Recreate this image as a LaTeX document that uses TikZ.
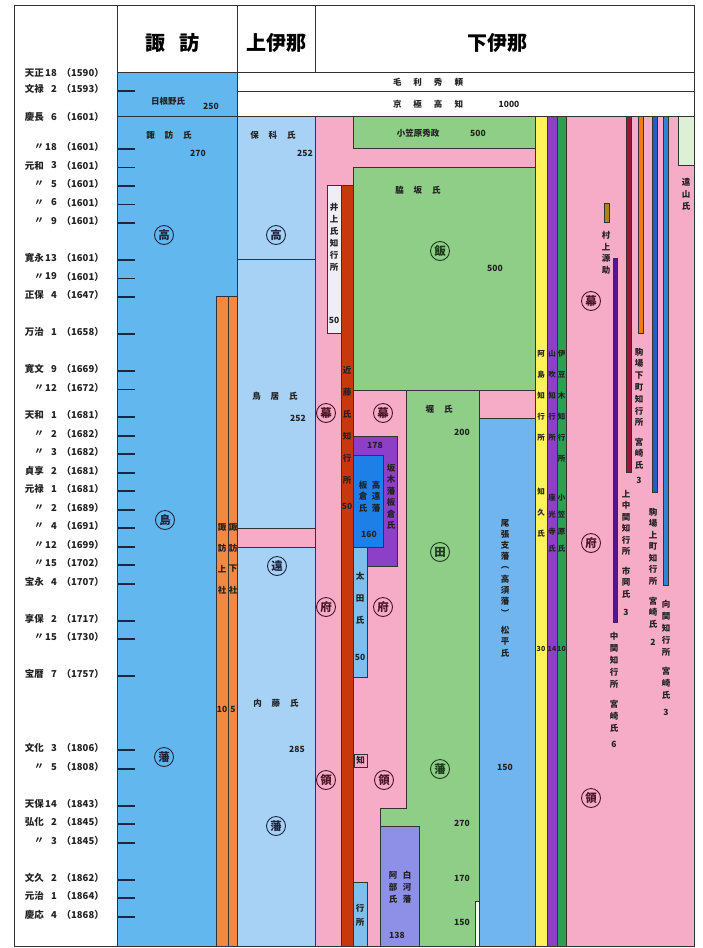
\documentclass[tikz,border=0pt]{standalone}
\usepackage{fontspec}
\setmainfont{Noto Sans CJK JP}
\definecolor{suwa}{HTML}{62B8EE}
\definecolor{kami}{HTML}{A8D2F5}
\definecolor{pinkc}{HTML}{F6ACC6}
\definecolor{grn}{HTML}{8FCE87}
\definecolor{orng}{HTML}{F58746}
\definecolor{kondo}{HTML}{C8380E}
\definecolor{inoue}{HTML}{EEEEF8}
\definecolor{owari}{HTML}{70B4F0}
\definecolor{takato}{HTML}{1E7FE6}
\definecolor{sakaki}{HTML}{8C40C8}
\definecolor{shira}{HTML}{8E90E8}
\definecolor{ota}{HTML}{7CC0F0}
\definecolor{yel}{HTML}{FFF25A}
\definecolor{purp}{HTML}{8A40C8}
\definecolor{gstrip}{HTML}{2AA050}
\definecolor{olive}{HTML}{A08A14}
\definecolor{dpurp}{HTML}{4E1A8C}
\definecolor{dred}{HTML}{A0143A}
\definecolor{orgtwo}{HTML}{F07A14}
\definecolor{bluone}{HTML}{1E60C8}
\definecolor{blutwo}{HTML}{2888D8}
\definecolor{toya}{HTML}{DDF0D6}
\definecolor{lineC}{HTML}{333333}
\definecolor{cB}{HTML}{1E2540}
\definecolor{cP}{HTML}{4A1525}
\definecolor{cG}{HTML}{1C3A1C}
\definecolor{txt}{HTML}{222222}
\newcommand\dt{〃\hspace{4pt}}
\newcommand{\vst}[6]{\foreach \c [count=\i from 0] in {#6}{\node[vt,#1] (#2\i) at (#3,{#4+\i*#5}) {\c};}}
\begin{document}
\begin{tikzpicture}[x=1pt,y=-1pt,
  box/.style={draw=lineC, line width=0.7pt},
  frame/.style={draw=lineC, line width=0.9pt},
  tickln/.style={draw=cB, line width=1.3pt},
  circ/.style={circle, draw, line width=0.9pt, inner sep=0pt, minimum size=19pt, font=\fontsize{11.5}{11.5}\selectfont\bfseries},
  t/.style={inner sep=0pt, text=txt, font=\fontsize{8.5}{9}\selectfont\bfseries},
  lab/.style={inner sep=0pt, text=txt, font=\fontsize{9.5}{10}\selectfont\bfseries},
  vt/.style={inner sep=0pt, text=txt, font=\fontsize{8.5}{8.5}\selectfont\bfseries},
  head/.style={inner sep=0pt, text=black, font=\fontsize{20}{22}\selectfont\bfseries}]
\useasboundingbox (0,0) rectangle (703,948);
\fill[white] (0,0) rectangle (703,948);

% ---- 諏訪 column
\filldraw[box, fill=suwa] (117.5,72) rectangle (237.5,116);
\filldraw[box, fill=suwa] (117.5,116) rectangle (237.5,946);
\filldraw[box, fill=orng] (216,296) rectangle (228,946);
\filldraw[box, fill=orng] (228,296) rectangle (237.5,946);
\foreach \y in {91,149,167.5,186,204.5,223,260,278.5,297,334,371,389.5,417,436,454,473,491,510,528,547,565,584,621,639,676,750,769,806,824,843,880,898,917}
  \draw[tickln] (117.5,\y) -- (135,\y);

% ---- 上伊那 / rows
\filldraw[box, fill=white] (237.5,72) rectangle (694,91);
\filldraw[box, fill=white] (237.5,91) rectangle (694,116);
\filldraw[box, fill=pinkc] (237.5,528) rectangle (315,547);
\filldraw[box, fill=kami] (237.5,116) rectangle (315,259);
\filldraw[box, fill=kami] (237.5,259) rectangle (315,528);
\filldraw[box, fill=kami] (237.5,547) rectangle (315,946);

% ---- 下伊那
\filldraw[box, fill=pinkc] (315,116) rectangle (694,946);
\filldraw[box, fill=grn] (353,116) rectangle (535,148);
\filldraw[box, fill=grn] (353,167) rectangle (535,390);
\filldraw[box, fill=inoue] (327,185) rectangle (341,333);
\filldraw[box, fill=kondo] (341,185) rectangle (353,946);
\filldraw[box, fill=grn] (406,390) -- (479,390) -- (479,946) -- (380,946) -- (380,808) -- (406,808) -- cycle;
\filldraw[box, fill=owari] (479,418) rectangle (535,946);
\filldraw[box, fill=sakaki] (353,436) rectangle (397,566);
\filldraw[box, fill=takato] (353,455) rectangle (383,547);
\filldraw[box, fill=ota] (353,547) rectangle (367,677);
\filldraw[box, fill=shira] (380,826) rectangle (419,946);
\filldraw[box, fill=white] (475,901) rectangle (479,946);
\filldraw[box, fill=pinkc] (354,754) rectangle (367,767);
\filldraw[box, fill=ota] (353,882) rectangle (367,946);
\filldraw[box, fill=yel] (535,116) rectangle (547,946);
\filldraw[box, fill=purp] (547,116) rectangle (557,946);
\filldraw[box, fill=gstrip] (557,116) rectangle (566,946);
\filldraw[box, fill=olive] (604,203) rectangle (609,222);
\filldraw[box, fill=dpurp] (613,258) rectangle (617,622);
\filldraw[box, fill=dred] (626,116) rectangle (631,472);
\filldraw[box, fill=orgtwo] (638,116) rectangle (643,333);
\filldraw[box, fill=bluone] (652,116) rectangle (657,492);
\filldraw[box, fill=blutwo] (663,116) rectangle (668,585);
\filldraw[box, fill=toya] (678,116) rectangle (694,165);

% ---- frame and header
\draw[frame] (14,5) rectangle (694,946);
\draw[frame] (117.5,5) -- (117.5,946);
\draw[frame] (237.5,5) -- (237.5,72);
\draw[frame] (315,5) -- (315,72);
\draw[frame] (117.5,72) -- (694,72);
\node[head] (hSuwa) at (172,43) {諏\hspace{14pt}訪};
\node[head] (hKami) at (276,43) {上伊那};
\node[head] (hShimo) at (497,43) {下伊那};

% ---- left labels
\foreach \e/\n/\yr/\y [count=\k] in {天正/18/1590/73, 文禄/2/1593/89, 慶長/6/1601/117, \dt/18/1601/147, 元和/3/1601/165.5, \dt/5/1601/184, \dt/6/1601/202.5, \dt/9/1601/221, 寛永/13/1601/258, \dt/19/1601/276.5, 正保/4/1647/295, 万治/1/1658/332, 寛文/9/1669/369, \dt/12/1672/387.5, 天和/1/1681/415, \dt/2/1682/434, \dt/3/1682/452, 貞享/2/1681/471, 元禄/1/1681/489, \dt/2/1689/508, \dt/4/1691/526, \dt/12/1699/545, \dt/15/1702/563, 宝永/4/1707/582, 享保/2/1717/619, \dt/15/1730/637, 宝暦/7/1757/674, 文化/3/1806/748, \dt/5/1808/767, 天保/14/1843/804, 弘化/2/1845/822, \dt/3/1845/841, 文久/2/1862/878, 元治/1/1864/896, 慶応/4/1868/915}
{
  \node[lab, anchor=east] (era\k) at (44,\y) {\e};
  \node[lab, anchor=east] (num\k) at (57,\y) {\n};
  \node[lab, anchor=east] (yr\k) at (104,\y) {（\yr）};
}

% ---- row texts
\node[t] (mouri) at (428,82) {毛\hspace{12pt}利\hspace{12pt}秀\hspace{12pt}頼};
\node[t] (kyogoku) at (428,104) {京\hspace{12pt}極\hspace{12pt}高\hspace{12pt}知};
\node[t] (kyoN) at (509,104) {1000};
\node[t] (hine) at (168,101) {日根野氏};
\node[t] (hineN) at (211,106) {250};
\node[t] (suwaS) at (169,135) {諏\hspace{10pt}訪\hspace{10pt}氏};
\node[t] (suwaN) at (198,153) {270};
\node[t] (hosh) at (273,135) {保\hspace{10pt}科\hspace{10pt}氏};
\node[t] (hoshN) at (305,153) {252};
\node[t] (torii) at (275,396) {鳥\hspace{10pt}居\hspace{10pt}氏};
\node[t] (toriiN) at (298,418) {252};
\node[t] (naito) at (276,703) {内\hspace{10pt}藤\hspace{10pt}氏};
\node[t] (naitoN) at (297,749) {285};

% orange strips
\vst{}{kamisha}{222}{527}{21}{諏,訪,上,社}
\vst{}{shimosha}{233}{527}{21}{諏,訪,下,社}
\node[t] (ksN) at (222,709) {10};
\node[t] (ssN) at (233,709) {5};

% circles
\node[circ, draw=cB, text=cB] (cA1) at (164,235) {高};
\node[circ, draw=cB, text=cB] (cA2) at (165,520) {島};
\node[circ, draw=cB, text=cB] (cA3) at (164,757) {藩};
\node[circ, draw=cB, text=cB] (cB1) at (276,235) {高};
\node[circ, draw=cB, text=cB] (cB2) at (277,566) {遠};
\node[circ, draw=cB, text=cB] (cB3) at (276,826) {藩};
\node[circ, draw=cP, text=cP] (cC1) at (326,413) {幕};
\node[circ, draw=cP, text=cP] (cC2) at (326,607) {府};
\node[circ, draw=cP, text=cP] (cC3) at (326,780) {領};
\node[circ, draw=cP, text=cP] (cD1) at (383,413) {幕};
\node[circ, draw=cP, text=cP] (cD2) at (383,607) {府};
\node[circ, draw=cP, text=cP] (cD3) at (384,780) {領};
\node[circ, draw=cG, text=cG] (cE1) at (440,251) {飯};
\node[circ, draw=cG, text=cG] (cE2) at (440,552) {田};
\node[circ, draw=cG, text=cG] (cE3) at (440,769) {藩};
\node[circ, draw=cP, text=cP] (cF1) at (591,301) {幕};
\node[circ, draw=cP, text=cP] (cF2) at (591,543) {府};
\node[circ, draw=cP, text=cP] (cF3) at (591,798) {領};

% 下伊那 texts
\node[t] (ogas) at (418,133) {小笠原秀政};
\node[t] (ogasN) at (478,133) {500};
\node[t] (waki) at (418,190) {脇\hspace{10pt}坂\hspace{10pt}氏};
\node[t] (wakiN) at (495,268) {500};
\vst{}{inoueT}{334}{207}{12}{井,上,氏,知,行,所}
\node[t] (inoueN) at (334,320) {50};
\vst{}{kondoT}{347}{370}{22}{近,藤,氏,知,行,所}
\node[t] (kondoN) at (347,506) {50};
\node[t] (hori) at (439,409) {堀\hspace{10pt}氏};
\node[t] (horiN) at (462,432) {200};
\node[t] (horiN2) at (462,823) {270};
\node[t] (horiN3) at (462,878) {170};
\node[t] (horiN4) at (462,922) {150};
\node[t] (sakN) at (375,445) {178};
\vst{}{sakT}{391}{468}{11.5}{坂,木,藩,板,倉,氏}
\vst{}{takA}{376}{485}{11.5}{高,遠,藩}
\vst{}{takB}{363}{485}{11.5}{板,倉,氏}
\node[t] (takN) at (369,534) {160};
\vst{}{otaT}{360}{576}{22}{太,田,氏}
\node[t] (otaN) at (360,657) {50};
\node[vt] (chiT) at (360.5,760.5) {知};
\vst{}{gyoT}{360}{908}{14}{行,所}
\vst{}{shiA}{407}{875}{12}{白,河,藩}
\vst{}{shiB}{393}{875}{12}{阿,部,氏}
\node[t] (shiN) at (397,935) {138};
\vst{}{owaT}{505}{523}{11.2}{尾,張,支,藩,︵,高,須,藩,︶}
\vst{}{owaU}{505}{630}{11.5}{松,平,氏}
\node[t] (owaN) at (505,767) {150};

% strips texts
\vst{font=\fontsize{7.5}{7.5}\selectfont\bfseries}{yA}{541}{354}{21}{阿,島,知,行,所}
\vst{font=\fontsize{7.5}{7.5}\selectfont\bfseries}{yB}{541}{492}{21}{知,久,氏}
\vst{font=\fontsize{7.5}{7.5}\selectfont\bfseries}{pA}{552}{354}{21}{山,吹,知,行,所}
\vst{font=\fontsize{7.5}{7.5}\selectfont\bfseries}{pB}{552}{498}{17}{座,光,寺,氏}
\vst{font=\fontsize{7.5}{7.5}\selectfont\bfseries}{gA}{561.5}{354}{21}{伊,豆,木,知,行,所}
\vst{font=\fontsize{7.5}{7.5}\selectfont\bfseries}{gB}{561.5}{498}{17}{小,笠,原,氏}
\node[vt, font=\fontsize{7}{7}\selectfont\bfseries] (yN) at (541,649) {30};
\node[vt, font=\fontsize{7}{7}\selectfont\bfseries] (pN) at (552,649) {14};
\node[vt, font=\fontsize{7}{7}\selectfont\bfseries] (gN) at (561.5,649) {10};

% right region texts
\vst{}{mura}{606}{235}{11.8}{村,上,源,助}
\vst{}{kmA}{626}{494}{11.5}{上,中,関,知,行,所}
\vst{}{kmB}{626}{571}{11.5}{市,岡,氏}
\node[t] (kmN) at (626,612) {3};
\vst{}{nkA}{614}{636}{12}{中,関,知,行,所}
\vst{}{nkB}{614}{704}{12}{宮,崎,氏}
\node[t] (nkN) at (614,744) {6};
\vst{}{kgA}{639}{352}{11.8}{駒,場,下,町,知,行,所}
\vst{}{kgB}{639}{442}{11.5}{宮,崎,氏}
\node[t] (kgN) at (639,480) {3};
\vst{}{kuA}{653}{512}{11.5}{駒,場,上,町,知,行,所}
\vst{}{kuB}{653}{601}{11.5}{宮,崎,氏}
\node[t] (kuN) at (653,642) {2};
\vst{}{mkA}{666}{604}{12}{向,関,知,行,所}
\vst{}{mkB}{666}{671}{12}{宮,崎,氏}
\node[t] (mkN) at (666,712) {3};
\vst{}{toyT}{686}{182}{12}{遠,山,氏}
\end{tikzpicture}
\end{document}
